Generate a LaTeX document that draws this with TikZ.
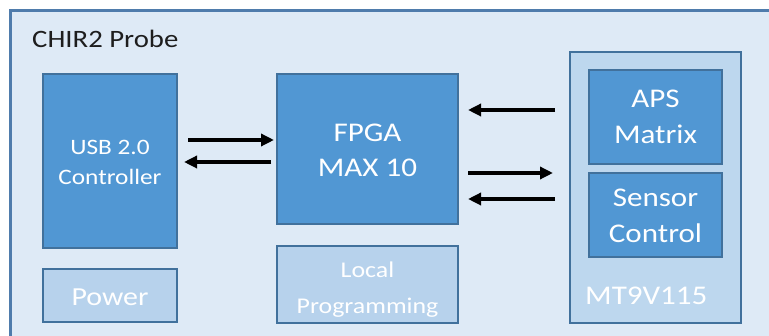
\documentclass[tikz,border=0pt]{standalone}
\usepackage{fontspec}
\setmainfont{Carlito}[FakeStretch=1.15]
\usetikzlibrary{arrows.meta}
\definecolor{bgout}{HTML}{DEEAF6}
\definecolor{frameline}{HTML}{4F7CAC}
\definecolor{boxfill}{HTML}{5197D3}
\definecolor{boxline}{HTML}{41719C}
\definecolor{lightfill}{HTML}{B7D2EC}
\definecolor{mtfill}{HTML}{BDD7EE}
\definecolor{titletext}{HTML}{1E1E1E}
\tikzset{
  x=1pt, y=-1pt,
  darkbox/.style={draw=boxline, line width=2pt, fill=boxfill, inner sep=0pt},
  lightbox/.style={draw=boxline, line width=2pt, fill=lightfill, inner sep=0pt},
  boxtext/.style={text=white, align=center, anchor=base, inner sep=0pt},
  arr/.style={line width=3.5pt, -{Triangle[length=13pt,width=12pt]}}
}
\begin{document}
\begin{tikzpicture}
\useasboundingbox (0,0) rectangle (769,336);
\clip (0,0) rectangle (769,336);
\fill[white] (0,0) rectangle (769,336);
% outer frame
\draw[frameline, line width=3pt, fill=bgout] (10.5,10.5) rectangle (800,360);
\node[anchor=base west, text=titletext, font=\fontsize{25}{28}\selectfont, inner sep=0pt] (title) at (32,48) {CHIR2 Probe};
% left column
\node[darkbox, minimum width=134pt, minimum height=174pt] (usb) at (110,161) {};
\node[boxtext, font=\fontsize{22}{30}\selectfont] (usbtext) at (110,185) {USB 2.0\\Controller};
\node[lightbox, minimum width=134pt, minimum height=53pt] (power) at (110,295.5) {};
\node[boxtext, font=\fontsize{26}{30}\selectfont] (powertext) at (110,306) {Power};
% middle column
\node[darkbox, minimum width=181pt, minimum height=150pt] (fpga) at (367.5,149) {};
\node[boxtext, font=\fontsize{27}{35}\selectfont] (fpgatext) at (367.5,177) {FPGA\\MAX 10};
\node[lightbox, minimum width=181pt, minimum height=77pt] (local) at (367.5,284.5) {};
\node[boxtext, font=\fontsize{22.5}{36}\selectfont] (localtext) at (367.5,314) {Local\\Programming};
% right column
\node[draw=boxline, line width=2pt, fill=mtfill, minimum width=171pt, minimum height=271pt, inner sep=0pt] (mt) at (655.5,187.5) {};
\node[anchor=base west, text=white, font=\fontsize{27}{30}\selectfont, inner sep=0pt] (mtlabel) at (585,305) {MT9V115};
\node[darkbox, minimum width=133pt, minimum height=94pt] (aps) at (655.5,117) {};
\node[boxtext, font=\fontsize{27}{36}\selectfont] (apstext) at (655.5,144) {APS\\Matrix};
\node[darkbox, minimum width=133pt, minimum height=84pt] (sensor) at (655.5,215) {};
\node[boxtext, font=\fontsize{27}{36}\selectfont] (sensortext) at (655.5,243) {Sensor\\Control};
% arrows USB <-> FPGA
\draw[arr, shorten <=10pt, shorten >=2pt] (usb.east |- 0,140) -- (fpga.west |- 0,140);
\draw[arr, shorten <=5pt, shorten >=6pt] (fpga.west |- 0,162) -- (usb.east |- 0,162);
% arrows FPGA <-> MT9V115
\draw[arr, shorten <=14pt, shorten >=9pt] (mt.west |- 0,110) -- (fpga.east |- 0,110);
\draw[arr, shorten <=9pt, shorten >=16pt] (fpga.east |- 0,173) -- (mt.west |- 0,173);
\draw[arr, shorten <=14pt, shorten >=9pt] (mt.west |- 0,199) -- (fpga.east |- 0,199);
\end{tikzpicture}
\end{document}
